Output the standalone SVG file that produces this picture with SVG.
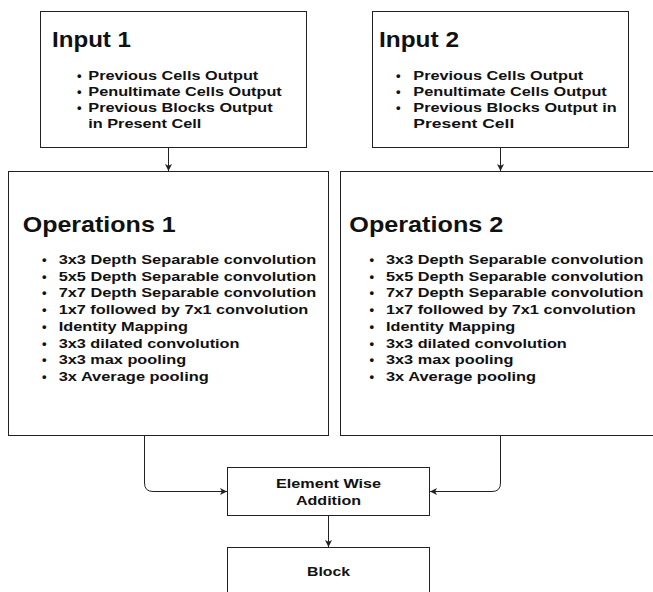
<svg xmlns="http://www.w3.org/2000/svg" width="653" height="592" viewBox="0 0 653 592">
<defs>
<style>
.box{fill:#fff;stroke:#222;stroke-width:1}
.title{font-family:"Liberation Sans",Arial,sans-serif;font-weight:bold;font-size:22px;fill:#111}
.item{font-family:"Liberation Sans",Arial,sans-serif;font-weight:bold;font-size:13px;fill:#111}
.lbl{font-family:"Liberation Sans",Arial,sans-serif;font-weight:bold;font-size:13px;fill:#111;text-anchor:middle}
.conn{fill:none;stroke:#222;stroke-width:1}
</style>
<marker id="arr" markerWidth="8" markerHeight="8" refX="7" refY="3.5" orient="auto" markerUnits="userSpaceOnUse">
<path d="M0,0 L7,3.5 L0,7 L1.8,3.5 z" fill="#222"/>
</marker>
</defs>
<rect width="653" height="592" fill="#fff"/>

<g id="input1">
<rect class="box" x="40.5" y="11.5" width="266" height="136"/>
<text class="title" x="52" y="47.3" textLength="79" lengthAdjust="spacingAndGlyphs">Input 1</text>
<text class="item" x="77" y="80.3">•</text>
<text class="item" x="88.3" y="80.3" textLength="170" lengthAdjust="spacingAndGlyphs">Previous Cells Output</text>
<text class="item" x="77" y="96.3">•</text>
<text class="item" x="88.3" y="96.3" textLength="193.5" lengthAdjust="spacingAndGlyphs">Penultimate Cells Output</text>
<text class="item" x="77" y="112.3">•</text>
<text class="item" x="88.3" y="112.3" textLength="184.4" lengthAdjust="spacingAndGlyphs">Previous Blocks Output</text>
<text class="item" x="88.3" y="128.3" textLength="113" lengthAdjust="spacingAndGlyphs">in Present Cell</text>
</g>

<g id="input2">
<rect class="box" x="372.5" y="11.5" width="256" height="136"/>
<text class="title" x="379" y="47.3" textLength="80" lengthAdjust="spacingAndGlyphs">Input 2</text>
<text class="item" x="396" y="80.3">•</text>
<text class="item" x="413.3" y="80.3" textLength="170" lengthAdjust="spacingAndGlyphs">Previous Cells Output</text>
<text class="item" x="396" y="96.3">•</text>
<text class="item" x="413.3" y="96.3" textLength="193.5" lengthAdjust="spacingAndGlyphs">Penultimate Cells Output</text>
<text class="item" x="396" y="112.3">•</text>
<text class="item" x="413.3" y="112.3" textLength="203.4" lengthAdjust="spacingAndGlyphs">Previous Blocks Output in</text>
<text class="item" x="413.3" y="128.3" textLength="101" lengthAdjust="spacingAndGlyphs">Present Cell</text>
</g>

<g id="operations1">
<rect class="box" x="8.5" y="171.5" width="320" height="264"/>
<text class="title" x="22.7" y="231.7" textLength="153" lengthAdjust="spacingAndGlyphs">Operations 1</text>
<g class="item">
<text x="42" y="264">•</text><text x="58.7" y="264" textLength="257.5" lengthAdjust="spacingAndGlyphs">3x3 Depth Separable convolution</text>
<text x="42" y="280.7">•</text><text x="58.7" y="280.7" textLength="257.5" lengthAdjust="spacingAndGlyphs">5x5 Depth Separable convolution</text>
<text x="42" y="297.4">•</text><text x="58.7" y="297.4" textLength="257.5" lengthAdjust="spacingAndGlyphs">7x7 Depth Separable convolution</text>
<text x="42" y="314.1">•</text><text x="58.7" y="314.1" textLength="249.6" lengthAdjust="spacingAndGlyphs">1x7 followed by 7x1 convolution</text>
<text x="42" y="330.8">•</text><text x="58.7" y="330.8" textLength="129.3" lengthAdjust="spacingAndGlyphs">Identity Mapping</text>
<text x="42" y="347.5">•</text><text x="58.7" y="347.5" textLength="180.8" lengthAdjust="spacingAndGlyphs">3x3 dilated convolution</text>
<text x="42" y="364.2">•</text><text x="58.7" y="364.2" textLength="127.5" lengthAdjust="spacingAndGlyphs">3x3 max pooling</text>
<text x="42" y="380.9">•</text><text x="58.7" y="380.9" textLength="150.1" lengthAdjust="spacingAndGlyphs">3x Average pooling</text>
</g>
</g>

<g id="operations2">
<rect class="box" x="340.5" y="171.5" width="320" height="264"/>
<text class="title" x="349.3" y="231.7" textLength="154" lengthAdjust="spacingAndGlyphs">Operations 2</text>
<g class="item">
<text x="369.5" y="264">•</text><text x="386" y="264" textLength="257.5" lengthAdjust="spacingAndGlyphs">3x3 Depth Separable convolution</text>
<text x="369.5" y="280.7">•</text><text x="386" y="280.7" textLength="257.5" lengthAdjust="spacingAndGlyphs">5x5 Depth Separable convolution</text>
<text x="369.5" y="297.4">•</text><text x="386" y="297.4" textLength="257.5" lengthAdjust="spacingAndGlyphs">7x7 Depth Separable convolution</text>
<text x="369.5" y="314.1">•</text><text x="386" y="314.1" textLength="249.6" lengthAdjust="spacingAndGlyphs">1x7 followed by 7x1 convolution</text>
<text x="369.5" y="330.8">•</text><text x="386" y="330.8" textLength="129.3" lengthAdjust="spacingAndGlyphs">Identity Mapping</text>
<text x="369.5" y="347.5">•</text><text x="386" y="347.5" textLength="180.8" lengthAdjust="spacingAndGlyphs">3x3 dilated convolution</text>
<text x="369.5" y="364.2">•</text><text x="386" y="364.2" textLength="127.5" lengthAdjust="spacingAndGlyphs">3x3 max pooling</text>
<text x="369.5" y="380.9">•</text><text x="386" y="380.9" textLength="150.1" lengthAdjust="spacingAndGlyphs">3x Average pooling</text>
</g>
</g>

<g id="addition">
<rect class="box" x="227.5" y="467.5" width="202" height="48"/>
<text class="lbl" x="328.5" y="488.3" textLength="105" lengthAdjust="spacingAndGlyphs">Element Wise</text>
<text class="lbl" x="328.5" y="505" textLength="65" lengthAdjust="spacingAndGlyphs">Addition</text>
</g>

<g id="block">
<rect class="box" x="227.5" y="547.5" width="202" height="60"/>
<text class="lbl" x="328.5" y="575.7" textLength="43" lengthAdjust="spacingAndGlyphs">Block</text>
</g>

<g id="connectors">
<path class="conn" d="M168.5,147.5 V171" marker-end="url(#arr)"/>
<path class="conn" d="M500.5,147.5 V171" marker-end="url(#arr)"/>
<path class="conn" d="M144.5,435.5 V483 Q144.5,491.5 153,491.5 H227" marker-end="url(#arr)"/>
<path class="conn" d="M500.5,435.5 V483 Q500.5,491.5 492,491.5 H430" marker-end="url(#arr)"/>
<path class="conn" d="M328.5,515.5 V547" marker-end="url(#arr)"/>
</g>
</svg>
